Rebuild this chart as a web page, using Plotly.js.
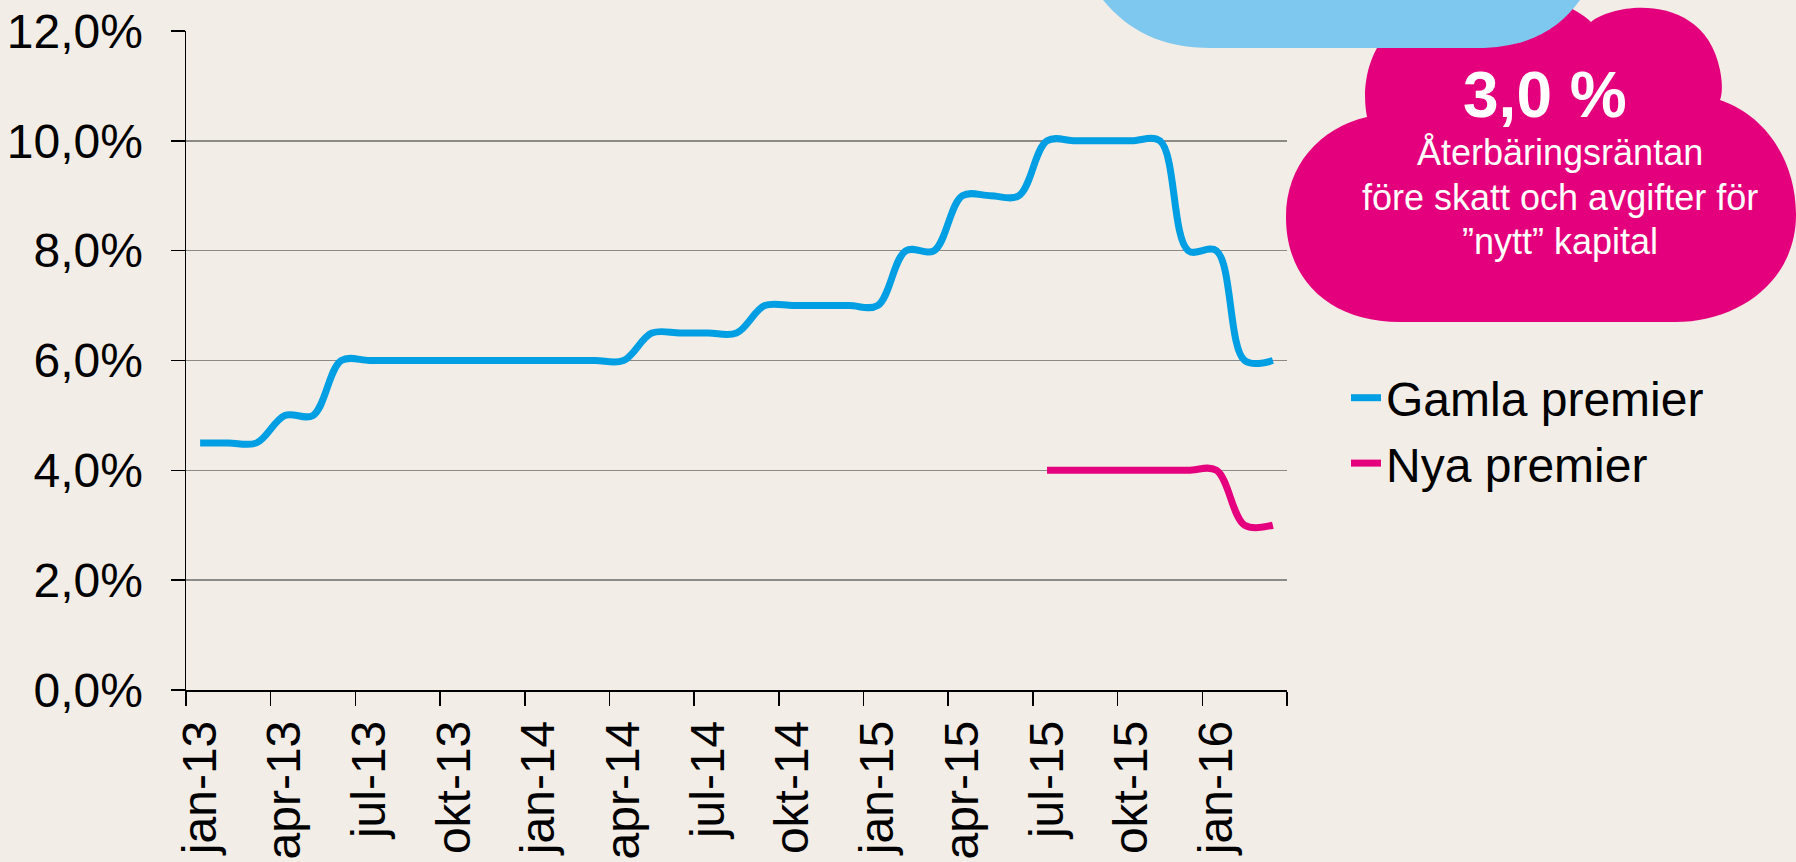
<!DOCTYPE html>
<html>
<head>
<meta charset="utf-8">
<script src="https://cdn.plot.ly/plotly-3.0.1.min.js"></script>
<style>
html,body{margin:0;padding:0;background:#F2EEE7;}
#chart{width:1796px;height:862px;}
</style>
</head>
<body>
<div id="chart"></div>
<script>
// ---- Data ----
const months = [
  'jan-13','feb-13','mar-13','apr-13','maj-13','jun-13','jul-13','aug-13','sep-13','okt-13','nov-13','dec-13',
  'jan-14','feb-14','mar-14','apr-14','maj-14','jun-14','jul-14','aug-14','sep-14','okt-14','nov-14','dec-14',
  'jan-15','feb-15','mar-15','apr-15','maj-15','jun-15','jul-15','aug-15','sep-15','okt-15','nov-15','dec-15',
  'jan-16','feb-16','mar-16'
];
const gamlaPremier = [
  4.5,4.5,4.5,5.0,5.0,6.0,6.0,6.0,6.0,6.0,6.0,6.0,
  6.0,6.0,6.0,6.0,6.5,6.5,6.5,6.5,7.0,7.0,7.0,7.0,
  7.0,8.0,8.0,9.0,9.0,9.0,10.0,10.0,10.0,10.0,10.0,8.0,
  8.0,6.0,6.0
];
const nyaPremier = [
  null,null,null,null,null,null,null,null,null,null,null,null,
  null,null,null,null,null,null,null,null,null,null,null,null,
  null,null,null,null,null,null,4.0,4.0,4.0,4.0,4.0,4.0,
  4.0,3.0,3.0
];
const tickLabels = ['jan-13','apr-13','jul-13','okt-13','jan-14','apr-14','jul-14','okt-14','jan-15','apr-15','jul-15','okt-15','jan-16',''];
const yTicks = [0,2,4,6,8,10,12];
const yTickLabels = ['0,0%','2,0%','4,0%','6,0%','8,0%','10,0%','12,0%'];

// x positions: each month sits in the middle of its monthly slot on the axis
const xs = months.map((m,i) => i + 0.5);
const tickVals = tickLabels.map((t,i) => i*3);

// ---- Layout helpers (pixel -> paper) ----
const W = 1796, H = 862;
const M = {l:186, r:509, t:31, b:172};
const PW = W - M.l - M.r, PH = H - M.t - M.b;
const fx = x => (x - M.l) / PW;
const fy = y => (H - M.b - y) / PH;
function path(cmds){
  return cmds.map(c => {
    const op = c[0];
    if (op === 'Z') return 'Z';
    const pts = c.slice(1).map(p => fx(p[0]).toFixed(5) + ',' + fy(p[1]).toFixed(5));
    return op + pts.join(' ');
  }).join(' ');
}

const magentaCloud = path([
  ['M',[1400,322]],
  ['C',[1330,322],[1286,280],[1286,217]],
  ['C',[1286,165],[1320,128],[1367,117]],
  ['C',[1358,70],[1380,10],[1450,2]],
  ['L',[1555,2]],
  ['C',[1570,6],[1584,15],[1591,22]],
  ['C',[1615,2],[1705,-8],[1720,70]],
  ['C',[1723,85],[1722,95],[1720,100]],
  ['C',[1765,115],[1796,160],[1796,215]],
  ['C',[1796,280],[1740,322],[1675,322]],
  ['Z']
]);
const blueCloud = path([
  ['M',[1103,0]],
  ['C',[1128,30],[1160,48],[1212,48]],
  ['L',[1477,48]],
  ['C',[1530,48],[1560,28],[1580,0]],
  ['Z']
]);

const traces = [
  {
    x: xs, y: gamlaPremier, name: 'Gamla premier', type: 'scatter', mode: 'lines',
    line: {color: '#009FE3', width: 7, shape: 'spline', smoothing: 1},
    hoverinfo: 'skip'
  },
  {
    x: xs, y: nyaPremier, name: 'Nya premier', type: 'scatter', mode: 'lines',
    line: {color: '#E5007D', width: 7, shape: 'spline', smoothing: 1},
    connectgaps: false, hoverinfo: 'skip'
  }
];

const font = {family: '"Liberation Sans", Arial, sans-serif', color: '#000000'};
const FS = 48;

const layout = {
  width: W, height: H,
  margin: M,
  paper_bgcolor: '#F2EEE7',
  plot_bgcolor: '#F2EEE7',
  font: Object.assign({size: FS}, font),
  showlegend: true,
  legend: {
    x: fx(1346), xanchor: 'left', y: fy(360), yanchor: 'top',
    bgcolor: 'rgba(0,0,0,0)', font: Object.assign({size: FS}, font),
    tracegroupgap: 0
  },
  xaxis: {
    range: [0, months.length],
    tickmode: 'array', tickvals: tickVals, ticktext: tickLabels,
    tickangle: -90, ticks: 'outside', ticklen: 14, tickwidth: 1.5, tickcolor: '#000',
    showline: true, linecolor: '#000', linewidth: 1.5,
    showgrid: false, zeroline: false,
    ticklabelshift: 14, ticklabelstandoff: -4,
    tickfont: Object.assign({size: FS}, font),
    fixedrange: true
  },
  yaxis: {
    range: [0, 12],
    tickmode: 'array', tickvals: yTicks, ticktext: yTickLabels,
    ticks: 'outside', ticklen: 14, tickwidth: 1.5, tickcolor: '#000',
    showline: true, linecolor: '#000', linewidth: 1.5,
    showgrid: true, gridcolor: '#8C8A86', gridwidth: 1.5, zeroline: false,
    ticklabelstandoff: 18,
    tickfont: Object.assign({size: FS}, font),
    fixedrange: true
  },
  shapes: [
    {type: 'path', xref: 'paper', yref: 'paper', path: magentaCloud, fillcolor: '#E4007C', line: {width: 0}, layer: 'above'},
    {type: 'path', xref: 'paper', yref: 'paper', path: blueCloud, fillcolor: '#7EC7EF', line: {width: 0}, layer: 'above'}
  ],
  annotations: [
    {xref: 'paper', yref: 'paper', x: fx(1545), y: fy(95), xanchor: 'center', yanchor: 'middle', showarrow: false,
     text: '<b>3,0 %</b>', font: {family: font.family, size: 64, color: '#FFFFFF'}},
    {xref: 'paper', yref: 'paper', x: fx(1560), y: fy(152), xanchor: 'center', yanchor: 'middle', showarrow: false,
     text: 'Återbäringsräntan', font: {family: font.family, size: 36, color: '#FFFFFF'}},
    {xref: 'paper', yref: 'paper', x: fx(1560), y: fy(197), xanchor: 'center', yanchor: 'middle', showarrow: false,
     text: 'före skatt och avgifter för', font: {family: font.family, size: 36, color: '#FFFFFF'}},
    {xref: 'paper', yref: 'paper', x: fx(1560), y: fy(242), xanchor: 'center', yanchor: 'middle', showarrow: false,
     text: '”nytt” kapital', font: {family: font.family, size: 36, color: '#FFFFFF'}}
  ]
};

Plotly.newPlot('chart', traces, layout, {staticPlot: true, displayModeBar: false});
</script>
</body>
</html>
